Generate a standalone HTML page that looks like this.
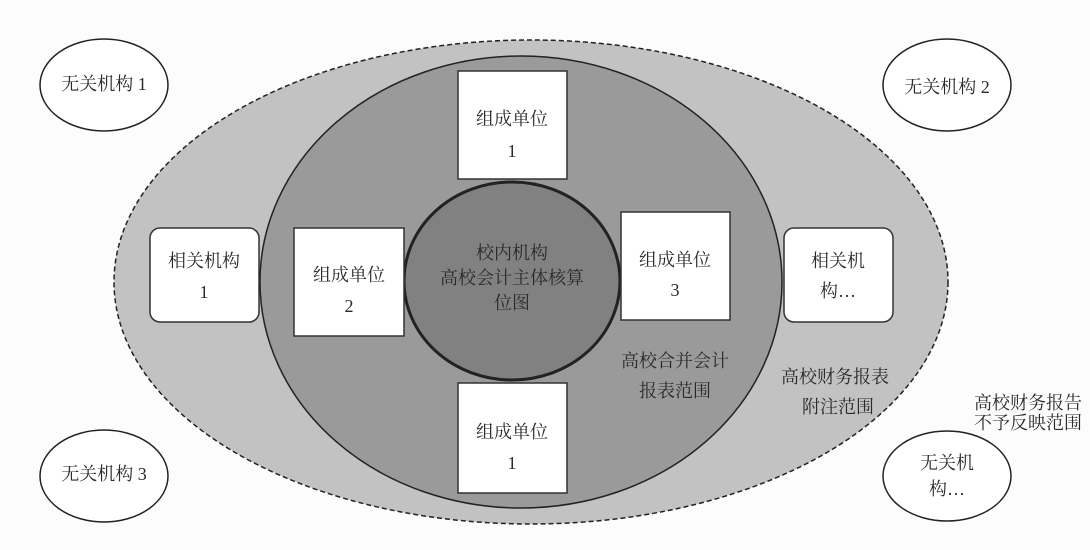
<!DOCTYPE html>
<html><head><meta charset="utf-8"><style>
html,body{margin:0;padding:0;background:#fcfcfc;}
svg{display:block;}
text{font-family:"Liberation Serif","Noto Serif CJK SC",serif;font-size:18px;fill:#2a2a2a;text-anchor:middle;}
</style></head><body>
<svg width="1090" height="550" viewBox="0 0 1090 550">
<rect width="1090" height="550" fill="#fcfcfc"/>
<ellipse cx="531" cy="282" rx="417" ry="242" fill="#c2c2c2" stroke="#222" stroke-width="1.5" stroke-dasharray="5,3"/>
<ellipse cx="521" cy="282" rx="261" ry="226" fill="#9a9a9a" stroke="#222" stroke-width="1.5"/>
<ellipse cx="512" cy="281" rx="108" ry="99" fill="#818181" stroke="#222" stroke-width="3"/>
<g fill="#fff" stroke="#333" stroke-width="1.5">
<rect x="458" y="71" width="109" height="108"/>
<rect x="294" y="228" width="110" height="108"/>
<rect x="621" y="212" width="109" height="108"/>
<rect x="458" y="383" width="109" height="110"/>
<rect x="150" y="228" width="109" height="94" rx="10"/>
<rect x="784" y="228" width="109" height="94" rx="10"/>
</g>
<g fill="#fff" stroke="#222" stroke-width="1.5">
<ellipse cx="104" cy="85" rx="64" ry="46"/>
<ellipse cx="947" cy="85" rx="64" ry="46"/>
<ellipse cx="104" cy="476" rx="64" ry="46"/>
<ellipse cx="947" cy="476" rx="64" ry="45"/>
</g>
<text x="104" y="90">无关机构 1</text>
<text x="947" y="93">无关机构 2</text>
<text x="104" y="480">无关机构 3</text>
<text x="947" y="469">无关机</text>
<text x="947" y="495">构…</text>
<text x="512" y="125">组成单位</text><text x="512" y="157">1</text>
<text x="349" y="281">组成单位</text><text x="349" y="312">2</text>
<text x="675" y="266">组成单位</text><text x="675" y="296">3</text>
<text x="512" y="438">组成单位</text><text x="512" y="469">1</text>
<text x="204" y="267">相关机构</text><text x="204" y="298">1</text>
<text x="838" y="267">相关机</text><text x="838" y="297">构…</text>
<text x="512" y="259">校内机构</text>
<text x="512" y="284">高校会计主体核算</text>
<text x="512" y="309">位图</text>
<text x="675" y="367">高校合并会计</text>
<text x="675" y="397">报表范围</text>
<text x="835" y="383">高校财务报表</text>
<text x="838" y="413">附注范围</text>
<text x="1028" y="409">高校财务报告</text>
<text x="1028" y="429">不予反映范围</text>
</svg>
</body></html>
